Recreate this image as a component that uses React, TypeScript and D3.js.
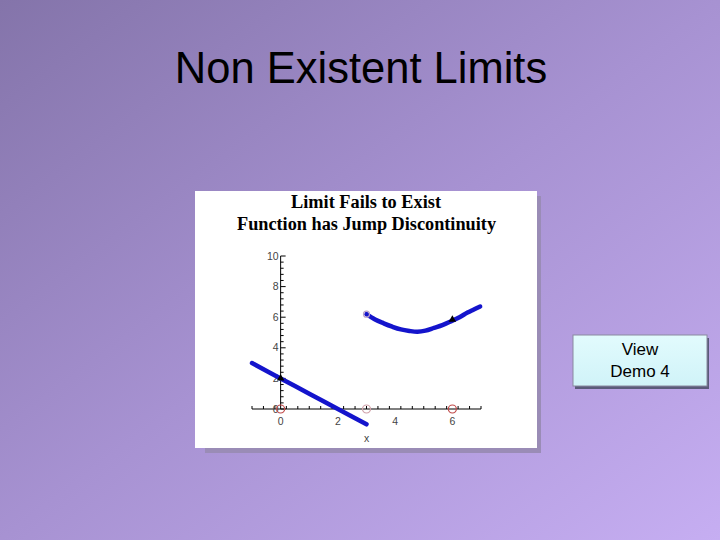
import React from "react";
import * as d3 from "d3";

const slideTitle = "Non Existent Limits";
const chartTitle = ["Limit Fails to Exist", "Function has Jump Discontinuity"];
const buttonLines = ["View", "Demo 4"];

// left piece: f(x) = 2 - x for x < 3
const leftPiece: [number, number][] = [
  [-1, 3], [0, 2], [1, 1], [2, 0], [3, -1],
];
// right piece
const rightPiece: [number, number][] = [
  [3.0, 6.2], [3.3, 5.85], [3.6, 5.6], [3.9, 5.38], [4.2, 5.2], [4.5, 5.1],
  [4.78, 5.05], [5.06, 5.12], [5.36, 5.3], [5.65, 5.48], [5.94, 5.72],
  [6.25, 6.0], [6.53, 6.3], [6.75, 6.5], [6.97, 6.7],
];
const openCircles: { x: number; y: number; c: string }[] = [
  { x: 0, y: 0, c: "#c04848" },
  { x: 3, y: 0, c: "#d0a0a8" },
  { x: 6, y: 0, c: "#c04848" },
  { x: 3, y: 6.2, c: "#b8a0c8" },
];
const blackMarks: [number, number][] = [[0, 2], [6, 5.85]];
const xTickLabels = [0, 2, 4, 6];
const yTickLabels = [0, 2, 4, 6, 8, 10];

export default function App() {
  const W = 720, H = 540;
  const x = d3.scaleLinear().domain([-1, 7]).range([252, 481]);
  const y = d3.scaleLinear().domain([0, 10]).range([409, 256]);
  const line = d3.line<[number, number]>().x(d => x(d[0])).y(d => y(d[1])).curve(d3.curveCatmullRom);

  const xMinor = d3.range(-1, 7.001, 0.4).map(v => +v.toFixed(2));
  const yMinor = d3.range(0, 10.001, 0.4).map(v => +v.toFixed(2));

  return (
    <svg width={W} height={H} style={{ position: "absolute", left: 0, top: 0 }}>
      <defs>
        <linearGradient id="bg" x1="0" y1="0" x2="1" y2="1">
          <stop offset="0" stopColor="#8474aa" />
          <stop offset="0.5" stopColor="#a792d2" />
          <stop offset="1" stopColor="#c6aef2" />
        </linearGradient>
        <linearGradient id="btn" x1="0" y1="0" x2="0" y2="1">
          <stop offset="0" stopColor="#e2fbfd" />
          <stop offset="1" stopColor="#d0f3f8" />
        </linearGradient>
      </defs>
      <rect x={0} y={0} width={W} height={H} fill="url(#bg)" />
      <text x={361} y={83} textAnchor="middle" fontFamily="Liberation Sans, Arial, sans-serif" fontSize={43.5} fill="#000">
        {slideTitle}
      </text>

      {/* chart image */}
      <rect x={205} y={196} width={336} height={257} fill="#9a8cb6" />
      <rect x={195} y={191} width={342} height={257} fill="#ffffff" />
      <text x={366} y={208} textAnchor="middle" fontFamily="Liberation Serif, Times New Roman, serif" fontWeight="bold" fontSize={18} textLength={150} lengthAdjust="spacingAndGlyphs">
        {chartTitle[0]}
      </text>
      <text x={366.5} y={229.5} textAnchor="middle" fontFamily="Liberation Serif, Times New Roman, serif" fontWeight="bold" fontSize={18} textLength={259} lengthAdjust="spacingAndGlyphs">
        {chartTitle[1]}
      </text>

      {/* axes */}
      <line x1={x(-1)} x2={x(7)} y1={y(0)} y2={y(0)} stroke="#000" strokeWidth={1} />
      <line x1={x(0)} x2={x(0)} y1={y(0)} y2={y(10)} stroke="#000" strokeWidth={1} />
      {xMinor.map((v, i) => (
        <line key={"xm" + i} x1={x(v)} x2={x(v)} y1={y(0)} y2={y(0) - (Math.abs(v % 2) < 0.01 ? 5 : 3)} stroke="#000" />
      ))}
      {yMinor.map((v, i) => (
        <line key={"ym" + i} x1={x(0)} x2={x(0) + (Math.abs(v % 2) < 0.01 ? 5 : 3)} y1={y(v)} y2={y(v)} stroke="#000" />
      ))}
      {xTickLabels.map(v => (
        <text key={"xl" + v} x={x(v)} y={y(0) + 16} textAnchor="middle" fontFamily="Liberation Sans, Arial, sans-serif" fontSize={10.5} fill="#444">
          {v}
        </text>
      ))}
      {yTickLabels.map(v => (
        <text key={"yl" + v} x={x(0) - 2} y={y(v) + 3.5} textAnchor="end" fontFamily="Liberation Sans, Arial, sans-serif" fontSize={10.5} fill="#444">
          {v}
        </text>
      ))}
      <text x={x(3)} y={442} textAnchor="middle" fontFamily="Liberation Sans, Arial, sans-serif" fontSize={10.5} fill="#444">x</text>

      {/* curves */}
      <path d={line(leftPiece) || ""} fill="none" stroke="#1414cc" strokeWidth={4.5} strokeLinecap="round" />
      <path d={line(rightPiece) || ""} fill="none" stroke="#1414cc" strokeWidth={4.5} strokeLinecap="round" />

      {openCircles.map((p, i) => (
        <circle key={"oc" + i} cx={x(p.x)} cy={y(p.y)} r={i === 3 ? 3 : 4} fill="none" stroke={p.c} strokeWidth={1.2} />
      ))}
      {blackMarks.map((p, i) => (
        <path key={"bm" + i} d={d3.symbol(d3.symbolTriangle, 24)() || ""} transform={`translate(${x(p[0])},${y(p[1])})`} fill="#000" />
      ))}

      {/* button */}
      <rect x={575} y={338} width={134} height={51} fill="#5a5a7a" />
      <rect x={573} y={335} width={134} height={51} fill="url(#btn)" stroke="#8a8aa0" strokeWidth={1} />
      <text x={640} y={355} textAnchor="middle" fontFamily="Liberation Sans, Arial, sans-serif" fontSize={17} fill="#000">
        {buttonLines[0]}
      </text>
      <text x={640} y={377} textAnchor="middle" fontFamily="Liberation Sans, Arial, sans-serif" fontSize={17} fill="#000">
        {buttonLines[1]}
      </text>
    </svg>
  );
}
